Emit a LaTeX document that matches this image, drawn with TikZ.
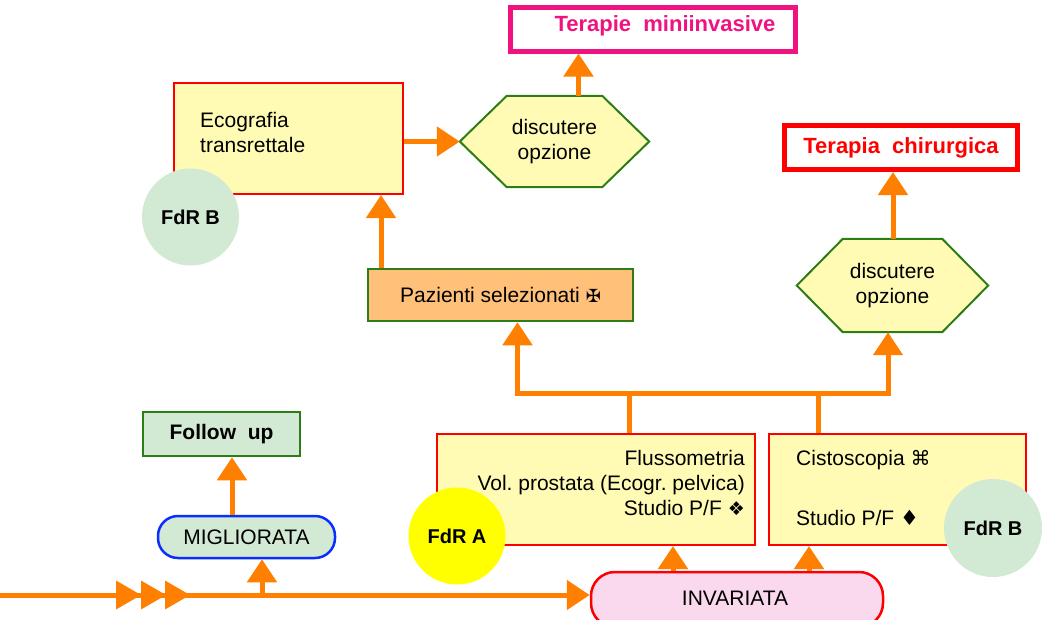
\documentclass[tikz,border=0pt]{standalone}
\usepackage{fontspec}
\setmainfont{Liberation Sans}
\newfontfamily\symf{DejaVu Sans}
\usetikzlibrary{arrows.meta,backgrounds}
\definecolor{arrowor}{HTML}{FF8000}
\definecolor{yfill}{HTML}{FFFBB4}
\definecolor{bred}{HTML}{FF0000}
\definecolor{mag}{HTML}{F0127F}
\definecolor{dgreen}{HTML}{2D7D16}
\definecolor{lgreen}{HTML}{D2E9D3}
\definecolor{pazfill}{HTML}{FFC07A}
\definecolor{pinkfill}{HTML}{FAD8EE}
\definecolor{bblue}{HTML}{0A2EFF}
\definecolor{fdryellow}{HTML}{FFFF00}
\begin{document}
\begin{tikzpicture}[x=1pt,y=-1pt,
  every node/.style={inner sep=0pt, font=\fontsize{21}{25}\selectfont},
  ybox/.style={draw=bred, line width=2pt, fill=yfill},
  tbox/.style={line width=5pt, fill=white},
  txt/.style={inner sep=0pt},
  boldtxt/.style={font=\fontsize{21}{25}\selectfont\bfseries},
  titletxt/.style={font=\fontsize{22}{25}\selectfont\bfseries},
  hexdraw/.style={draw=dgreen, line width=2pt, fill=yfill, line join=miter},
  gbox/.style={draw=dgreen, line width=2.5pt},
  circ/.style={circle, minimum size=97pt, font=\fontsize{20}{25}\selectfont\bfseries},
  arr/.style={draw=arrowor, line width=5pt, -{Triangle[length=23pt,width=29pt]}},
  conn/.style={draw=arrowor, line width=5pt}
]
\clip (0,0) rectangle (1042,619);

% top targets
\node[tbox, draw=mag, minimum width=285pt, minimum height=44pt] (tm) at (652.5,29) {};
\node[txt, titletxt, text=mag] (tmt) at (665,26) {Terapie\ \ miniinvasive};
\node[tbox, draw=bred, minimum width=233pt, minimum height=44pt, titletxt, text=bred] (tc) at (901,147.5) {Terapia\ \ chirurgica};

% Ecografia
\node[ybox, minimum width=229pt, minimum height=111pt] (eco) at (288.5,138.5) {};
\node[txt, anchor=west, align=left] (ecot) at (200,132.5) {Ecografia\\transrettale};
\node[circ, fill=lgreen] (fb1) at (190.5,217) {FdR B};

% hexagons
\node[minimum width=189pt, minimum height=91pt, align=center] (h1) at (554.5,141.5) {discutere\\opzione};
\node[minimum width=191pt, minimum height=93pt, align=center] (h2) at (892.5,285.5) {discutere\\opzione};
\begin{scope}[on background layer]
\draw[hexdraw] (h1.west) -- ([xshift=47pt]h1.north west) -- ([xshift=-47pt]h1.north east) -- (h1.east)
  -- ([xshift=-47pt]h1.south east) -- ([xshift=47pt]h1.south west) -- cycle;
\draw[hexdraw] (h2.west) -- ([xshift=46pt]h2.north west) -- ([xshift=-46pt]h2.north east) -- (h2.east)
  -- ([xshift=-46pt]h2.south east) -- ([xshift=46pt]h2.south west) -- cycle;
\end{scope}

% Pazienti
\node[gbox, fill=pazfill, minimum width=265pt, minimum height=52pt] (paz) at (500.5,295)
  {Pazienti selezionati {\symf\fontsize{18}{18}\selectfont ✠}\hspace{12pt}};

% lower boxes
\node[ybox, minimum width=318pt, minimum height=111pt] (flux) at (596,489.5) {};
\node[txt, anchor=east, align=right] (fluxt) at (745,483) {\fontsize{21}{27}\selectfont Flussometria\\Vol.\ prostata\ (Ecogr.\ pelvica)\\Studio P/F {\symf\fontsize{19}{19}\selectfont ❖}};
\node[ybox, minimum width=257pt, minimum height=111pt] (cist) at (897.5,489.5) {};
\node[txt, anchor=west] (cist1) at (796,460) {Cistoscopia {\symf\fontsize{20}{20}\selectfont ⌘}};
\node[txt, anchor=west] (cist2) at (796,518) {Studio P/F {\symf\fontsize{21}{21}\selectfont ♦}};
\node[circ, fill=fdryellow] (fa) at (457,536) {FdR A};
\node[circ, fill=lgreen, minimum size=98pt] (fb2) at (993,528) {FdR B};

% left bottom
\node[gbox, fill=lgreen, minimum width=157pt, minimum height=44pt, boldtxt] (fu) at (221.5,434) {Follow\ \ up};
\node[draw=bblue, line width=2.5pt, fill=lgreen, rounded corners=20pt, minimum width=177pt, minimum height=42pt] (mig) at (246.5,537) {MIGLIORATA};
\node[draw=bred, line width=2.5pt, fill=pinkfill, rounded corners=24pt, minimum width=292pt, minimum height=55pt] (inv) at (737,599.5) {};
\node[txt] (invt) at (735,598) {INVARIATA};

% coordinates
\coordinate (start) at (0,595);
\coordinate (m0) at (262,595);
\coordinate (xA) at (578.5,0);
\coordinate (xB) at (381,0);
\coordinate (xC) at (517.5,0);
\coordinate (xD) at (888,0);
\coordinate (xE) at (893,0);
\coordinate (xF) at (232,0);
\coordinate (xG) at (673,0);
\coordinate (xH) at (809,0);
\coordinate (j1) at (629.5,393);
\coordinate (j2) at (818,393);

% connectors
\draw[arr] (start) -- (start -| inv.west);
\foreach \bx in {116,141,165}
  \fill[arrowor] (\bx,580.5) -- (\bx+25,595) -- (\bx,609.5) -- cycle;
\draw[arr] (m0) -- (m0 |- mig.south);
\draw[arr] (mig.north -| xF) -- (fu.south -| xF);
\draw[arr] (inv.north -| xG) -- (flux.south -| xG);
\draw[arr] (inv.north -| xH) -- (cist.south -| xH);
\draw[conn] (flux.north -| j1) -- (j1);
\draw[conn] (cist.north -| j2) -- (j2);
\draw[arr] (j1) -| (paz.south -| xC);
\draw[arr] (j1) -| (h2.south -| xD);
\draw[arr] (paz.north -| xB) -- (eco.south -| xB);
\draw[arr] (eco.east |- h1.west) -- (h1.west);
\draw[arr] (h1.north -| xA) -- (tm.south -| xA);
\draw[arr] (h2.north -| xE) -- (tc.south -| xE);
\end{tikzpicture}
\end{document}
